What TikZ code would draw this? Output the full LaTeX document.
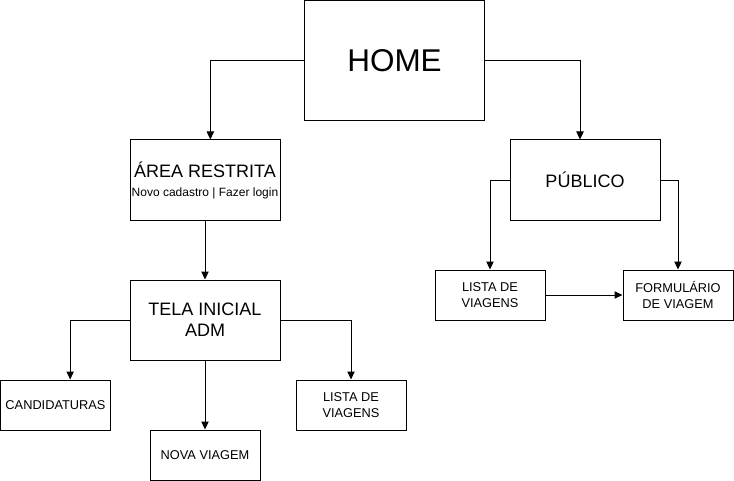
\documentclass[tikz,border=0pt]{standalone}
\usepackage{fontspec}
\setmainfont{Liberation Sans}
\usetikzlibrary{arrows.meta}

\tikzset{
  caixa/.style={draw, line width=0.75pt, inner sep=0pt, align=center},
  grande/.style={caixa, minimum width=112.5pt, minimum height=60pt, font=\fontsize{13.5}{15.75}\selectfont},
  pequena/.style={caixa, minimum width=82.5pt, minimum height=37.5pt, font=\fontsize{9.6}{11.4}\selectfont},
  seta/.style={line width=0.75pt, -{Triangle[length=6pt,width=5.5pt]}},
}

\begin{document}
\begin{tikzpicture}[x=0.75pt,y=-0.75pt]
    \useasboundingbox (0,0) rectangle (734,481);

    %Caixas
    \node[caixa, minimum width=135pt, minimum height=90pt, font=\fontsize{23.6}{28}\selectfont] (home) at (394.5,60.5) {HOME};
    \node[grande] (area) at (205,180) {ÁREA RESTRITA\\[-1.5pt]{\fontsize{9}{10.8}\selectfont Novo cadastro | Fazer login}};
    \node[grande] (publico) at (585,180) {PÚBLICO};
    \node[grande] (tela) at (205,320) {TELA INICIAL\\ADM};
    \node[pequena] (listapub) at (490,295) {LISTA DE\\VIAGENS};
    \node[pequena] (formulario) at (678,295) {FORMULÁRIO\\DE VIAGEM};
    \node[pequena] (candidaturas) at (55.5,405) {CANDIDATURAS};
    \node[pequena] (novaviagem) at (205,455) {NOVA VIAGEM};
    \node[pequena] (listaadm) at (351,405) {LISTA DE\\VIAGENS};

    %Setas
    \draw[seta] (home.west) -| ([xshift=4pt]area.north);
    \draw[seta] (home.east) -| ([xshift=-3.75pt]publico.north);
    \draw[seta] (area) -- (tela);
    \draw[seta] (publico.west) -| (listapub.north);
    \draw[seta] (publico.east) -| (formulario.north);
    \draw[seta] (listapub) -- (formulario);
    \draw[seta] (tela.west) -| ([xshift=11pt]candidaturas.north);
    \draw[seta] (tela) -- (novaviagem);
    \draw[seta] (tela.east) -| (listaadm.north);

\end{tikzpicture}
\end{document}
